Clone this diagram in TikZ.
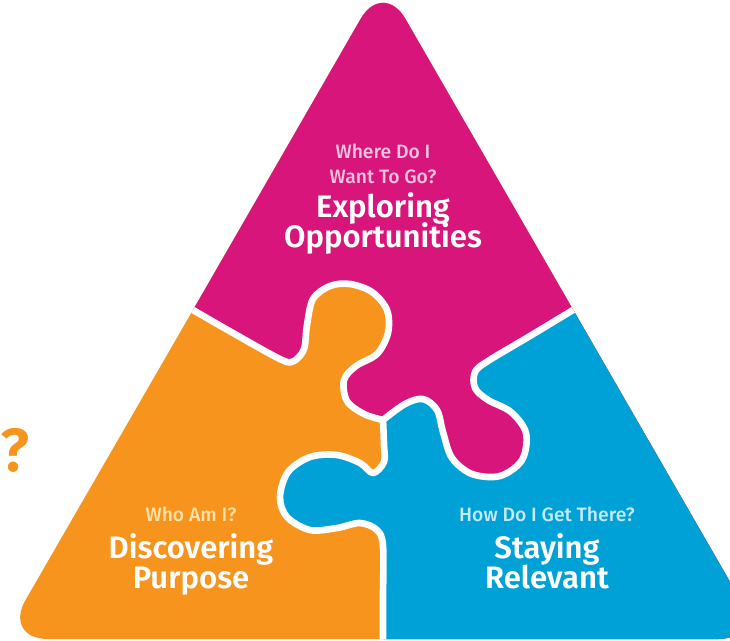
\documentclass[tikz,border=0pt]{standalone}
\usepackage{fontspec}
\setmainfont{Fira Sans}[BoldFont={Fira Sans SemiBold}]
\newfontfamily\askfont{Fira Sans Medium}
\definecolor{pieceMag}{HTML}{D7157A}
\definecolor{pieceOra}{HTML}{F7941E}
\definecolor{pieceBlu}{HTML}{00A1D7}
\definecolor{askMag}{HTML}{F6C4DE}
\definecolor{askOra}{HTML}{FCE2A8}
\definecolor{askBlu}{HTML}{C6EAF7}
\tikzset{
  piece line/.style={draw=white, line width=2mm, line join=round, line cap=round},
  ask text/.style={font=\askfont\fontsize{16.5}{20}\selectfont, anchor=base},
  title text/.style={font=\bfseries\fontsize{26.5}{25}\selectfont, text=white, anchor=base},
  % puzzle seams, pixel coordinates (y down)
  seam mo/.style={insert path={-- plot[smooth, tension=0.55] coordinates {(193,310) (240,337) (282,360) (294,361) (304,349) (307,325) (313,299) (330,286) (350,284) (372,292) (387,310) (388,333) (377,354) (356,366) (344,380) (347,401) (364,414) (383,420)}}},
  seam mb/.style={insert path={-- plot[smooth, tension=0.55] coordinates {(573,310) (530,336) (488,361) (475,372) (475,388) (488,400) (511,412) (526,433) (522,460) (500,476) (472,474) (452,458) (443,432) (437,410) (423,399) (405,404) (383,420)}}},
  seam ob/.style={insert path={-- plot[smooth, tension=0.55] coordinates {(383,420) (384,445) (384,462) (373,473) (360,463) (337,455) (310,457) (288,472) (280,497) (287,517) (310,530) (337,528) (360,523) (377,530) (383,546) (383,600) (383,660)}}},
}

\begin{document}
\begin{tikzpicture}[x=0.3mm, y=-0.3mm]
\useasboundingbox (0,0) rectangle (730,640);
\clip (0,0) rectangle (730,640);

\begin{scope}
  \clip[rounded corners=13.5mm] (193,310) -- (3,639) -- (763,639) -- (383,-20) -- cycle;
  \fill[pieceOra] (-100,-100) rectangle (800,700);
  \fill[pieceMag] (106,260) [seam mo] -- (384,700) -- (800,700) -- (800,-100) -- (106,-100) -- cycle;
  \fill[pieceBlu] (383,420) [seam ob] -- (383,700) -- (800,700) -- (800,260) -- (660,260) [seam mb] -- cycle;
  \draw[piece line] (193,310) [seam mo];
  \draw[piece line] (573,310) [seam mb];
  \draw[piece line] (383,420) [seam ob];
\end{scope}

% top piece
\node[ask text, text=askMag] (whereq) at (383,158) {Where Do I};
\node[ask text, text=askMag] (wantq) at (383,183) {Want To Go?};
\node[title text] (explore) at (383,217) {Exploring};
\node[title text] (opport) at (383,247) {Opportunities};

% left piece
\node[ask text, text=askOra] (whoq) at (191,521) {Who Am I?};
\node[title text] (discover) at (191,558) {Discovering};
\node[title text] (purpose) at (191,588) {Purpose};

% right piece
\node[ask text, text=askBlu] (howq) at (547,521) {How Do I Get There?};
\node[title text] (staying) at (547,558) {Staying};
\node[title text] (relevant) at (547,588) {Relevant};

\node[font=\bfseries\fontsize{52}{52}\selectfont, text=pieceOra, inner sep=0pt] (mark) at (15,450) {?};
\end{tikzpicture}
\end{document}
